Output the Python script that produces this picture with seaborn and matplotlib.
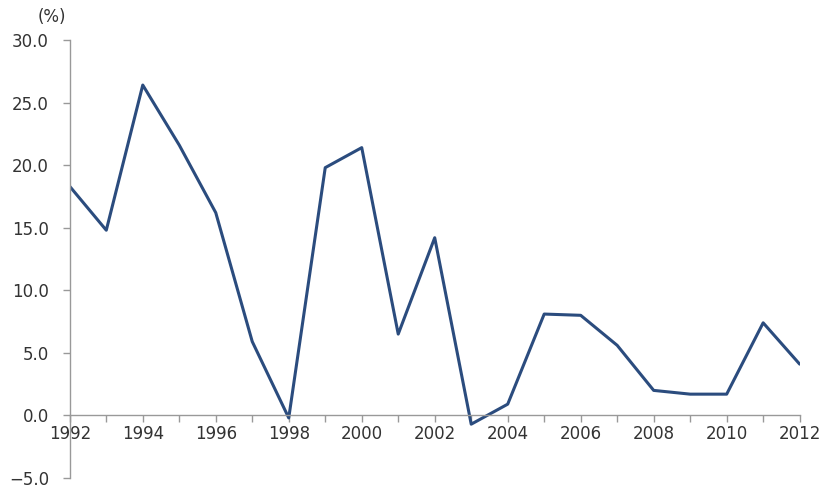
import matplotlib
matplotlib.use("Agg")
import matplotlib.pyplot as plt
import seaborn as sns
import pandas as pd

years = list(range(1992, 2013))
values = [18.3, 14.8, 26.4, 21.6, 16.2, 5.9, -0.2, 19.8, 21.4, 6.5, 14.2,
          -0.7, 0.9, 8.1, 8.0, 5.6, 2.0, 1.7, 1.7, 7.4, 4.1]
y_ticks = [-5.0, 0.0, 5.0, 10.0, 15.0, 20.0, 25.0, 30.0]
x_ticks = list(range(1992, 2013, 2))
unit_label = "(%)"

sns.set_style("white")
plt.rcParams['font.family'] = ['DejaVu Sans']

df = pd.DataFrame({"year": years, "value": values})
fig = plt.figure(figsize=(8.21, 4.91), dpi=100)
ax = fig.add_axes([0.085, 0.0265, 0.889, 0.892])
sns.lineplot(data=df, x="year", y="value", ax=ax, color="#2B4C7E", linewidth=2.2)

ax.set_xlim(1992, 2012)
ax.set_ylim(-5, 30)
ax.set_yticks(y_ticks)
ax.set_yticklabels([f"{v:.1f}".replace("-", "\u2212") for v in y_ticks])
ax.set_xticks(years, minor=False)
ax.set_xticklabels([str(y) if y in x_ticks else "" for y in years])
ax.set_xlabel("")
ax.set_ylabel("")

for s in ["top", "right"]:
    ax.spines[s].set_visible(False)
ax.spines["bottom"].set_position(("data", 0))
for s in ["left", "bottom"]:
    ax.spines[s].set_color("#999999")
    ax.spines[s].set_linewidth(1.0)

ax.tick_params(axis="both", which="both", direction="out", length=5, width=1,
               color="#999999", labelsize=12, labelcolor="#333333",
               bottom=True, left=True)
ax.tick_params(axis="y", pad=10)
ax.tick_params(axis="x", pad=2)

fig.text(0.063, 0.965, unit_label, fontsize=12, color="#333333", ha="center", va="center")

fig.savefig("out.png", dpi=100)
